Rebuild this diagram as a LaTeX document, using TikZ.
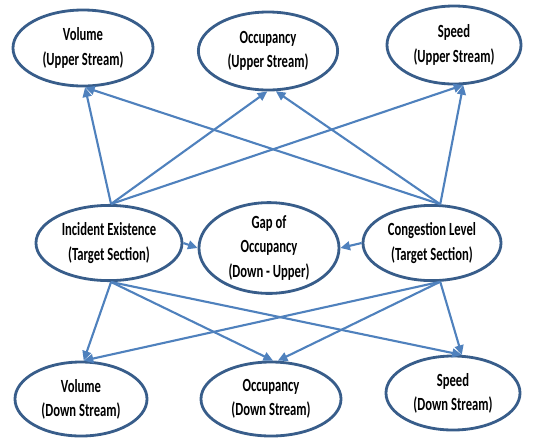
\documentclass[tikz,border=0pt]{standalone}
\usepackage{fontspec}
\setmainfont{Carlito}[FakeStretch=0.68]
\usetikzlibrary{shapes.geometric,arrows.meta}
\definecolor{ellblue}{HTML}{385D8A}
\definecolor{arrblue}{HTML}{4F81BD}
\tikzset{
  varnode/.style={ellipse,draw=ellblue,line width=2pt,inner sep=0pt,align=center,
    font=\fontsize{13.2}{17.2}\selectfont\bfseries},
  dep/.style={draw=arrblue,line width=1.5pt,-{Triangle[length=2.4mm,width=2.2mm]}}
}
\begin{document}
\begin{tikzpicture}[x=0.025cm,y=-0.025cm]
    \useasboundingbox (0,0) rectangle (534,437);
    % upper stream
    \node[varnode,minimum width=3.5cm,minimum height=1.9cm] (volup) at (83,48) {Volume\\(Upper Stream)};
    \node[varnode,minimum width=3.48cm,minimum height=1.95cm] (occup) at (268,51) {Occupancy\\(Upper Stream)};
    \node[varnode,minimum width=3.35cm,minimum height=1.95cm] (spdup) at (454,45) {Speed\\(Upper Stream)};
    % target section
    \node[varnode,minimum width=3.65cm,minimum height=1.88cm] (incid) at (109,243) {Incident Existence\\(Target Section)};
    \node[varnode,minimum width=3.5cm,minimum height=1.78cm] (gap) at (269,248) {Gap of\\Occupancy\\(Down - Upper)};
    \node[varnode,minimum width=3.45cm,minimum height=1.88cm] (cong) at (432,243) {Congestion Level\\(Target Section)};
    % down stream
    \node[varnode,minimum width=3.3cm,minimum height=1.85cm] (voldn) at (81,399) {Volume\\(Down Stream)};
    \node[varnode,minimum width=3.5cm,minimum height=1.85cm] (occdn) at (271,399) {Occupancy\\(Down Stream)};
    \node[varnode,minimum width=3.35cm,minimum height=1.85cm] (spddn) at (453,393) {Speed\\(Down Stream)};

    \draw[dep] (incid.87) -- (volup.-87);
    \draw[dep] (incid.87) -- (occup.-91);
    \draw[dep] (incid.87) -- (spdup.-77);
    \draw[dep] (cong.78) -- (volup.-87);
    \draw[dep] (cong.78) -- (occup.-79);
    \draw[dep] (cong.78) -- (spdup.-77);

    \draw[dep] (incid.-87) -- (voldn.86);
    \draw[dep] (incid.-87) -- (occdn.87);
    \draw[dep] (incid.-87) -- (spddn.77);
    \draw[dep] (cong.-78) -- (voldn.86);
    \draw[dep] (cong.-78) -- (occdn.80);
    \draw[dep] (cong.-78) -- (spddn.77);

    \draw[dep] (incid.east) -- (gap.west);
    \draw[dep] (cong.west) -- (gap.east);
\end{tikzpicture}
\end{document}
